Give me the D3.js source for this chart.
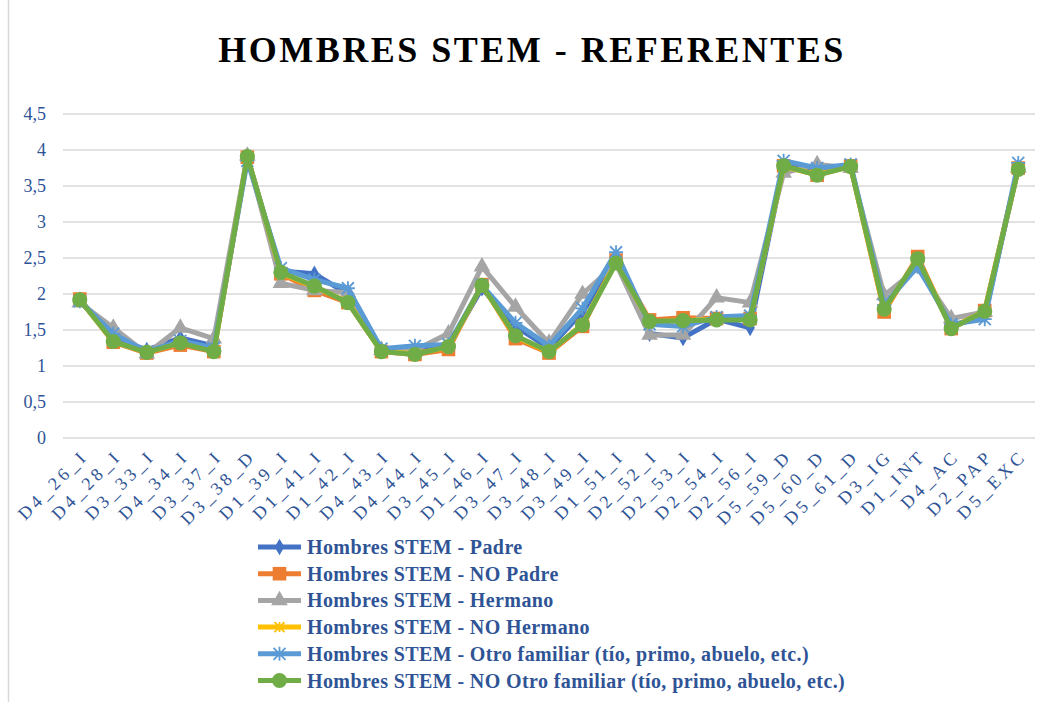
<!DOCTYPE html>
<html>
<head>
<meta charset="utf-8">
<script src="https://cdn.jsdelivr.net/npm/d3@7"></script>
<style>
  html, body { margin: 0; padding: 0; background: #fff; }
  svg { display: block; }
</style>
</head>
<body>
<svg id="chart" width="1040" height="702"></svg>
<script>
// Categories along the x axis
const categories = ["D4_26_I","D4_28_I","D3_33_I","D4_34_I","D3_37_I","D3_38_D","D1_39_I","D1_41_I","D1_42_I","D4_43_I","D4_44_I","D3_45_I","D1_46_I","D3_47_I","D3_48_I","D3_49_I","D1_51_I","D2_52_I","D2_53_I","D2_54_I","D2_56_I","D5_59_D","D5_60_D","D5_61_D","D3_IG","D1_INT","D4_AC","D2_PAP","D5_EXC"];

// Mean score per category for each group
const padre      = [1.92,1.40,1.22,1.39,1.28,3.90,2.32,2.28,2.00,1.21,1.20,1.28,2.08,1.55,1.25,1.75,2.45,1.45,1.39,1.65,1.53,3.78,3.72,3.77,1.82,2.45,1.55,1.70,3.75];
const noPadre    = [1.93,1.33,1.18,1.29,1.20,3.90,2.28,2.05,1.88,1.20,1.16,1.23,2.13,1.38,1.18,1.55,2.47,1.64,1.67,1.66,1.66,3.78,3.65,3.78,1.75,2.52,1.52,1.77,3.75];
const hermano    = [1.88,1.53,1.17,1.53,1.38,3.92,2.15,2.05,2.02,1.22,1.22,1.45,2.38,1.82,1.32,2.00,2.42,1.43,1.43,1.95,1.88,3.68,3.80,3.75,1.98,2.36,1.66,1.75,3.75];
const noHermano  = [1.92,1.34,1.19,1.32,1.21,3.90,2.29,2.10,1.89,1.20,1.17,1.26,2.12,1.41,1.19,1.58,2.44,1.61,1.63,1.65,1.65,3.77,3.66,3.77,1.78,2.49,1.53,1.76,3.74];
const otro       = [1.90,1.45,1.20,1.35,1.25,3.85,2.36,2.20,2.08,1.24,1.28,1.30,2.12,1.60,1.28,1.80,2.58,1.58,1.55,1.68,1.70,3.85,3.75,3.80,1.85,2.38,1.58,1.65,3.82];
const noOtro     = [1.92,1.34,1.19,1.32,1.20,3.91,2.30,2.11,1.88,1.20,1.16,1.27,2.12,1.42,1.20,1.57,2.43,1.62,1.63,1.64,1.64,3.78,3.65,3.77,1.79,2.49,1.52,1.76,3.73];

const seriesNames = [
  "Hombres STEM - Padre",
  "Hombres STEM - NO Padre",
  "Hombres STEM - Hermano",
  "Hombres STEM - NO Hermano",
  "Hombres STEM - Otro familiar (tío, primo, abuelo, etc.)",
  "Hombres STEM - NO Otro familiar (tío, primo, abuelo, etc.)"
];
const seriesValues = [padre, noPadre, hermano, noHermano, otro, noOtro];
const seriesColors = ["#4472C4","#ED7D31","#A5A5A5","#FFC000","#5B9BD5","#70AD47"];
const seriesMarkers = ["diamond","square","triangle","cross","star","circle"];

const yTicks = [0,0.5,1,1.5,2,2.5,3,3.5,4,4.5];
const title = "HOMBRES STEM - REFERENTES";

const svg = d3.select("#chart");
const textColor = "#2F5496";
const serif = "'Liberation Serif', 'Times New Roman', serif";

// chart frame edge
svg.append("line")
  .attr("x1", 8.5).attr("x2", 8.5).attr("y1", 0).attr("y2", 702)
  .attr("stroke", "#d9d9d9").attr("stroke-width", 1.5);

const plot = { left: 63, right: 1035, top: 114, bottom: 438 };

const x = d3.scalePoint()
  .domain(categories)
  .range([plot.left, plot.right])
  .padding(0.5);

const y = d3.scaleLinear()
  .domain([0, 4.5])
  .range([plot.bottom, plot.top]);

// title
svg.append("text")
  .attr("x", 532).attr("y", 62)
  .attr("text-anchor", "middle")
  .attr("font-family", serif)
  .attr("font-weight", "bold")
  .attr("font-size", 36)
  .attr("letter-spacing", 2.5)
  .attr("fill", "#000")
  .text(title);

// horizontal gridlines
svg.append("g")
  .selectAll("line")
  .data(yTicks)
  .join("line")
  .attr("x1", plot.left).attr("x2", plot.right)
  .attr("y1", d => y(d)).attr("y2", d => y(d))
  .attr("stroke", "#d9d9d9").attr("stroke-width", 1.5);

// y axis labels
const yAxis = d3.axisLeft(y)
  .tickValues(yTicks)
  .tickSize(0)
  .tickPadding(0)
  .tickFormat(d => String(d).replace(".", ","));
const yg = svg.append("g")
  .attr("transform", `translate(46,0)`)
  .call(yAxis);
yg.select(".domain").remove();
yg.selectAll("text")
  .attr("font-family", serif)
  .attr("font-size", 18)
  .attr("fill", textColor)
  .attr("dy", "0.32em");

// x axis labels, rotated
const xAxis = d3.axisBottom(x).tickSize(0).tickPadding(0);
const xg = svg.append("g")
  .attr("transform", `translate(0,${plot.bottom})`)
  .call(xAxis);
xg.select(".domain").remove();
xg.selectAll("text")
  .attr("font-family", serif)
  .attr("font-size", 18)
  .attr("letter-spacing", 3.8)
  .attr("fill", textColor)
  .attr("text-anchor", "end")
  .attr("dy", null)
  .attr("y", 0)
  .attr("transform", "translate(9,19) rotate(-45)");

// marker shapes
function markerPath(kind) {
  switch (kind) {
    case "diamond": return d3.symbol(d3.symbolDiamond, 80)();
    case "square": return d3.symbol(d3.symbolSquare, 185)();
    case "triangle": return d3.symbol(d3.symbolTriangle, 120)();
    case "circle": return d3.symbol(d3.symbolCircle, 180)();
    case "cross": return "M-5,-5L5,5M-5,5L5,-5M0,-5L0,5";
    case "star": return "M-6,-6L6,6M-6,6L6,-6M0,-7L0,7M-7,0L7,0";
  }
}

const line = d3.line()
  .x((d, i) => x(categories[i]))
  .y(d => y(d));

const seriesG = svg.append("g");
seriesValues.forEach((vals, s) => {
  const g = seriesG.append("g");
  g.append("path")
    .datum(vals)
    .attr("d", line)
    .attr("fill", "none")
    .attr("stroke", seriesColors[s])
    .attr("stroke-width", 5)
    .attr("stroke-linejoin", "round");
  const isStroke = seriesMarkers[s] === "cross" || seriesMarkers[s] === "star";
  g.selectAll("path.m")
    .data(vals)
    .join("path")
    .attr("class", "m")
    .attr("transform", (d, i) => `translate(${x(categories[i])},${y(d)})`)
    .attr("d", markerPath(seriesMarkers[s]))
    .attr("fill", isStroke ? "none" : seriesColors[s])
    .attr("stroke", seriesColors[s])
    .attr("stroke-width", isStroke ? 1.8 : 0);
});

// legend
const legend = svg.append("g");
const legendRowY = d3.range(seriesNames.length).map(i => 547 + i * 26.7);
seriesNames.forEach((name, s) => {
  const ly = legendRowY[s];
  const g = legend.append("g");
  g.append("line")
    .attr("x1", 258).attr("x2", 301)
    .attr("y1", ly).attr("y2", ly)
    .attr("stroke", seriesColors[s]).attr("stroke-width", 5);
  const isStroke = seriesMarkers[s] === "cross" || seriesMarkers[s] === "star";
  g.append("path")
    .attr("transform", `translate(279.5,${ly})`)
    .attr("d", markerPath(seriesMarkers[s]))
    .attr("fill", isStroke ? "none" : seriesColors[s])
    .attr("stroke", seriesColors[s])
    .attr("stroke-width", isStroke ? 1.8 : 0);
  g.append("text")
    .attr("x", 307).attr("y", ly)
    .attr("dy", "0.35em")
    .attr("font-family", serif)
    .attr("font-weight", "bold")
    .attr("font-size", 20)
    .attr("letter-spacing", 0.4)
    .attr("fill", textColor)
    .text(name);
});
</script>
</body>
</html>
